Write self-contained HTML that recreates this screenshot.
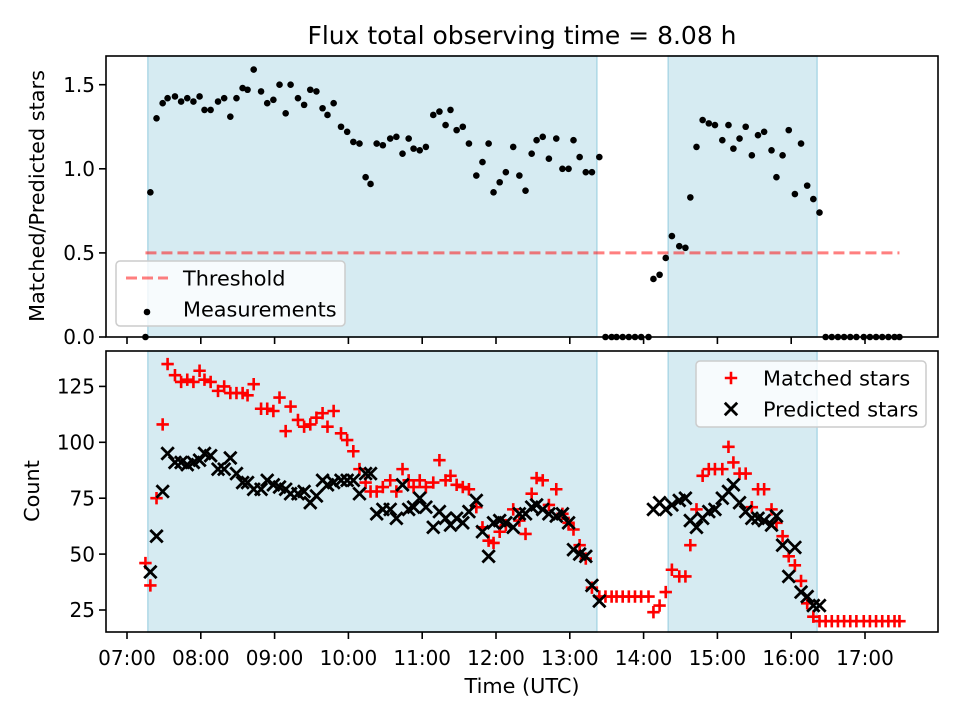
<!DOCTYPE html>
<html><head><meta charset="utf-8"><style>
html,body{margin:0;padding:0;background:#fff;}
svg text{font-family:"DejaVu Sans","Liberation Sans",sans-serif;fill:#000;}
</style></head><body>
<svg id="fig" width="960" height="720" viewBox="0 0 960 720" xmlns="http://www.w3.org/2000/svg">
<rect width="960" height="720" fill="#fff"/>
<text x="522" y="44" font-size="25" text-anchor="middle">Flux total observing time = 8.08 h</text>
<g id="topPanel"></g>
<g id="botPanel"></g>
<text transform="translate(44,196) rotate(-90)" font-size="20.8" text-anchor="middle">Matched/Predicted stars</text>
<text transform="translate(39,491) rotate(-90)" font-size="20.8" text-anchor="middle">Count</text>
<text x="522" y="693" font-size="20.8" text-anchor="middle">Time (UTC)</text>
</svg>
<script>
// minutes since 07:00 UTC
const times = [15,19,24,29,33,39,44,49,54,59,63,68,74,79,84,89,94,98,103,109,114,119,124,129,133,139,144,149,154,159,163,168,174,179,184,189,194,198,203,208,214,219,224,229,233,238,243,249,254,259,263,268,273,278,284,289,294,298,303,308,314,319,324,329,333,338,343,349,354,359,363,368,373,378,384,
389,394,398,403,408,413,418,424,
428,433,438,443,449,454,458,463,468,473,478,484,489,493,498,503,508,513,518,524,528,533,538,543,548,553,558,563,
568,573,578,583,588,593,599,604,609,614,619,624,628];
const ratios = [0,.86,1.30,1.39,1.42,1.43,1.40,1.42,1.40,1.43,
1.35,1.35,1.40,1.42,1.31,1.42,1.48,1.47,1.59,1.46,
1.39,1.41,1.50,1.33,1.50,1.42,1.38,1.47,1.46,1.36,
1.32,1.39,1.25,1.22,1.16,1.15,.95,.91,1.15,1.14,
1.18,1.19,1.09,1.18,1.12,1.11,1.13,1.32,1.34,1.26,
1.35,1.23,1.25,1.15,.96,1.04,1.15,.86,.92,.98,
1.13,.96,.87,1.09,1.17,1.19,1.06,1.18,1.0,1.0,
1.17,1.07,.98,.98,1.07,
0,0,0,0,0,0,0,0,
.345,.37,.47,.60,.54,.53,.83,1.13,1.29,1.27,1.26,1.17,1.26,1.12,1.18,1.25,1.08,1.20,1.22,1.11,.95,1.08,1.23,.85,1.15,.90,.82,.74,
0,0,0,0,0,0,0,0,0,0,0,0,0];
const matched = [46,36,75,108,135,130,127,128,127,132,
128,127,123,125,122,122,122,121,126,115,
115,114,120,105,116,110,107,108,111,113,
107,114,104,101,96,88,82,78,78,80,
83,78,88,83,80,83,80,82,92,83,
85,81,80,79,71,62,56,55,60,63,
70,65,59,77,84,83,72,79,68,64,
61,54,48,35,31,
31,31,31,31,31,31,31,31,
24,27,33,43,40,40,54,70,85,88,88,88,98,91,86,86,71,79,79,70,64,58,49,45,38,28,22,20,
20,20,20,20,20,20,20,20,20,20,20,20,20];
const predicted = [null,42,58,78,95,91,91,90,91,92,
95,94,88,88,93,86,82,82,79,79,
83,81,80,79,77,77,78,73,76,83,
81,82,83,83,83,77,86,86,68,70,
70,66,81,70,71,75,71,62,69,66,
63,66,64,69,74,60,49,64,65,64,
62,68,68,71,72,70,68,67,68,64,
52,50,49,36,29,
null,null,null,null,null,null,null,null,
70,73,70,72,74,75,65,62,66,69,70,75,78,81,73,69,66,66,65,63,67,54,40,53,33,31,27,27,
null,null,null,null,null,null,null,null,null,null,null,null,null];
const shadeSpans = [[17,382],[440,561]];
const xTickLabels = ["07:00","08:00","09:00","10:00","11:00","12:00","13:00","14:00","15:00","16:00","17:00"];
const topTicks = [0,0.5,1.0,1.5];
const botTicks = [25,50,75,100,125];
const threshold = 0.5;

const NS="http://www.w3.org/2000/svg";
const L=106,R=938;
const xs=m=>127+m*1.23;
const yTop=v=>337-v*168.2;
const yBot=v=>610-(v-25)*2.236;
function mk(p,tag,a){const e=document.createElementNS(NS,tag);for(const k in a)e.setAttribute(k,a[k]);p.appendChild(e);return e;}

function panel(g,T,B,ticks,yf,fmt,name){
  mk(g,'rect',{x:L,y:T,width:R-L,height:B-T,fill:'#fff'});
  shadeSpans.forEach((s,i)=>{
    const r=mk(g,'rect',{x:xs(s[0]),y:T,width:xs(s[1])-xs(s[0]),height:B-T,fill:'rgb(173,216,230)','fill-opacity':0.5,stroke:'rgb(173,216,230)','stroke-width':1.5});
    
    
  });
  xTickLabels.forEach((lab,i)=>{
    const x=xs(i*60);
    const t=mk(g,'line',{x1:x,x2:x,y1:B,y2:B+7,stroke:'#000','stroke-width':1.6});
    
    
  });
  ticks.forEach(v=>{
    const y=yf(v);
    const t=mk(g,'line',{x1:L-7,x2:L,y1:y,y2:y,stroke:'#000','stroke-width':1.6});
    
    
    const tx=mk(g,'text',{x:L-11,y:y+7.2,'font-size':20,'text-anchor':'end'});
    tx.textContent=fmt(v);
    
    
  });
}

const topG=document.getElementById('topPanel'), botG=document.getElementById('botPanel');
panel(topG,56,337,topTicks,yTop,v=>v.toFixed(1),'top');
panel(botG,351,632,botTicks,yBot,v=>String(v),'bottom');

xTickLabels.forEach((lab,i)=>{
  const t=mk(botG,'text',{x:xs(i*60),y:665,'font-size':20,'text-anchor':'middle'});
  t.textContent=lab;
  
  
});

const th=mk(topG,'line',{x1:xs(times[0]),x2:xs(times[times.length-1]),y1:yTop(threshold),y2:yTop(threshold),stroke:'#ff0000','stroke-opacity':0.5,'stroke-width':3,'stroke-dasharray':'11,5'});



times.forEach((m,i)=>{
  const c=mk(topG,'circle',{cx:xs(m),cy:yTop(ratios[i]),r:3.3,fill:'#000'});
  
  
});

function plus(g,x,y,col){
  return mk(g,'path',{d:`M${x-6.2},${y}H${x+6.2}M${x},${y-6.2}V${y+6.2}`,stroke:col,'stroke-width':2.6,fill:'none'});
}
function cross(g,x,y,col){
  const d=6.2;
  return mk(g,'path',{d:`M${x-d},${y-d}L${x+d},${y+d}M${x-d},${y+d}L${x+d},${y-d}`,stroke:col,'stroke-width':2.8,fill:'none'});
}
times.forEach((m,i)=>{
  const p=plus(botG,xs(m),yBot(matched[i]),'#ff0000');
  
  
});
times.forEach((m,i)=>{
  if(predicted[i]===null) return;
  const p=cross(botG,xs(m),yBot(predicted[i]),'#000');
  
  
});

[[topG,56,337],[botG,351,632]].forEach(([g,T,B])=>{
  const s=mk(g,'rect',{x:L,y:T,width:R-L,height:B-T,fill:'none',stroke:'#000','stroke-width':1.6});
  
  
});

function legend(g,x,y,w,h,entries,name){
  const lg=mk(g,'g',{});
  
  
  mk(lg,'rect',{x:x,y:y,width:w,height:h,rx:4,fill:'#fff','fill-opacity':0.8,stroke:'#ccc','stroke-width':1.5});
  entries.forEach((e,i)=>{
    const cy=y+17+i*31;
    e.draw(lg,x,cy);
    const t=mk(lg,'text',{x:x+67,y:cy+7.5,'font-size':20.8});
    t.textContent=e.label;
    
    
  });
}
legend(topG,116,261,229,65,[
  {label:'Threshold',draw:(g,x,y)=>mk(g,'line',{x1:x+10,x2:x+52,y1:y,y2:y,stroke:'#ff0000','stroke-opacity':0.5,'stroke-width':3,'stroke-dasharray':'11,5'})},
  {label:'Measurements',draw:(g,x,y)=>mk(g,'circle',{cx:x+31,cy:y+3,r:3.3,fill:'#000'})}
],'top-legend');
legend(botG,696,361,230,66,[
  {label:'Matched stars',draw:(g,x,y)=>plus(g,x+35,y,'#ff0000')},
  {label:'Predicted stars',draw:(g,x,y)=>cross(g,x+35,y,'#000')}
],'bottom-legend');
</script>
</body></html>
